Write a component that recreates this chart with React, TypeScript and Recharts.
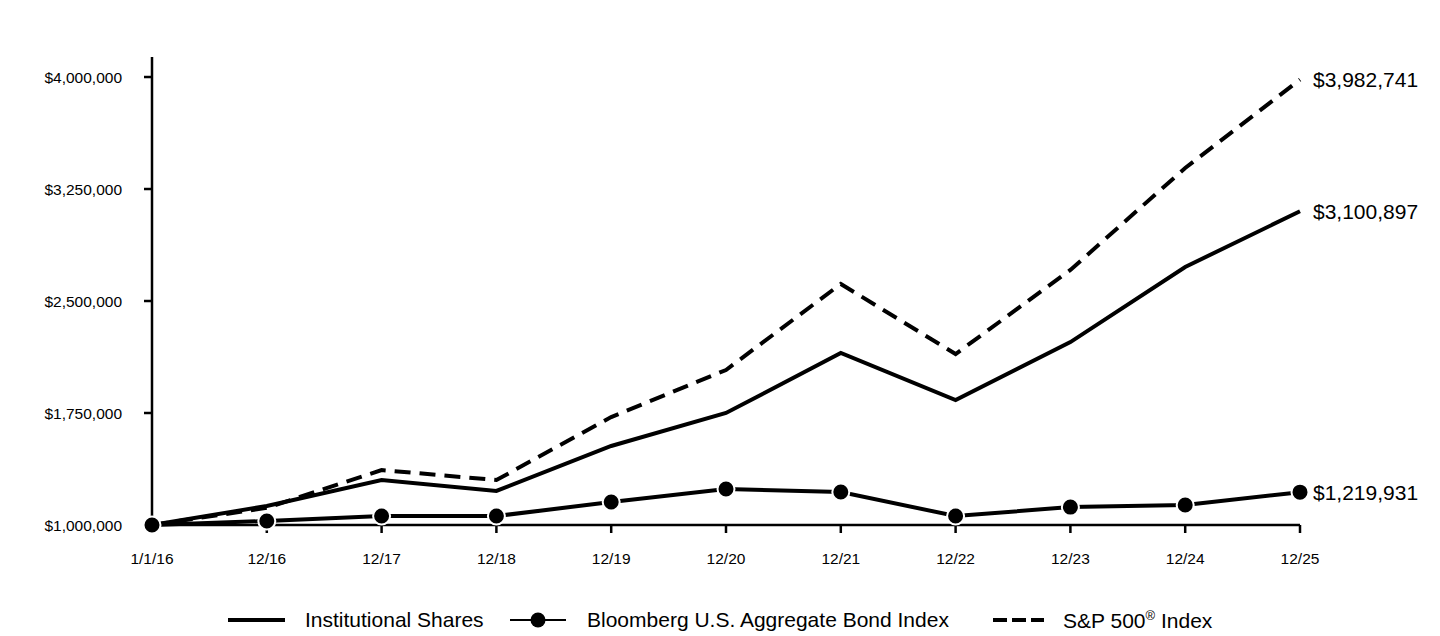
import { LineChart, Line, XAxis, YAxis, LabelList } from "recharts";

const dates = ["1/1/16", "12/16", "12/17", "12/18", "12/19", "12/20", "12/21", "12/22", "12/23", "12/24", "12/25"];
const institutional = [1000000, 1127000, 1301000, 1228000, 1529000, 1750000, 2152000, 1837000, 2225000, 2728000, 3100897];
const bondIndex = [1000000, 1027000, 1060000, 1060000, 1154000, 1241000, 1221000, 1060000, 1120000, 1134000, 1219931];
const sp500 = [1000000, 1115000, 1368000, 1301000, 1723000, 2038000, 2614000, 2145000, 2708000, 3391000, 3982741];
const yTicks = [1000000, 1750000, 2500000, 3250000, 4000000];

const data = dates.map((d, i) => ({
  date: d,
  inst: institutional[i],
  bond: bondIndex[i],
  sp: sp500[i],
}));

const FONT = '"Liberation Sans", Arial, sans-serif';
const money = (v: number) => "$" + v.toLocaleString("en-US");

const endLabel = (props: any) => {
  const { x, y, value, index } = props;
  if (index !== dates.length - 1) return null;
  return (
    <text x={x + 13} y={y} dy="0.35em" fontSize={21} fill="#000" fontFamily={FONT}>
      {money(value)}
    </text>
  );
};

export default function App() {
  return (
    <div style={{ position: "absolute", left: 0, top: 0, width: 1440, height: 636, background: "#fff", fontFamily: FONT }}>
      <LineChart width={1440} height={636} data={data} margin={{ top: 57, right: 140, bottom: 61, left: 0 }}>
        <XAxis
          dataKey="date"
          stroke="#000"
          strokeWidth={2.5}
          tickSize={8}
          tickMargin={20}
          fontSize={15.5}
          tick={{ fontSize: 15.5, fill: "#000", fontFamily: FONT }}
          height={50}
          interval={0}
        />
        <YAxis
          domain={[1000000, 4134000]}
          ticks={yTicks}
          tickFormatter={money}
          stroke="#000"
          strokeWidth={2.5}
          tickSize={8}
          tickMargin={22}
          width={152}
          fontSize={15.5}
          tick={{ fontSize: 15.5, fill: "#000", fontFamily: FONT }}
        />
        <Line dataKey="sp" stroke="#000" strokeWidth={4} strokeDasharray="16 9" dot={false} isAnimationActive={false}>
          <LabelList dataKey="sp" content={endLabel} />
        </Line>
        <Line dataKey="inst" stroke="#000" strokeWidth={4} dot={false} isAnimationActive={false}>
          <LabelList dataKey="inst" content={endLabel} />
        </Line>
        <Line
          dataKey="bond"
          stroke="#000"
          strokeWidth={4}
          dot={{ r: 8.5, fill: "#000", stroke: "#fff", strokeWidth: 2 }}
          isAnimationActive={false}
        >
          <LabelList dataKey="bond" content={endLabel} />
        </Line>
      </LineChart>
      <div style={{ position: "absolute", top: 606, left: 0, width: 1440, height: 28, fontSize: 21, color: "#000" }}>
        <svg style={{ position: "absolute", left: 226, top: 0 }} width={62} height={28}>
          <line x1={2} y1={14} x2={59} y2={14} stroke="#000" strokeWidth={4} />
        </svg>
        <span style={{ position: "absolute", left: 305, top: 2 }}>Institutional Shares</span>
        <svg style={{ position: "absolute", left: 508, top: 0 }} width={62} height={28}>
          <line x1={2} y1={14} x2={58} y2={14} stroke="#000" strokeWidth={2} />
          <circle cx={30} cy={14} r={7.5} fill="#000" />
        </svg>
        <span style={{ position: "absolute", left: 587, top: 2 }}>Bloomberg U.S. Aggregate Bond Index</span>
        <svg style={{ position: "absolute", left: 991, top: 0 }} width={62} height={28}>
          <line x1={2} y1={14} x2={53} y2={14} stroke="#000" strokeWidth={4} strokeDasharray="14 5" />
        </svg>
        <span style={{ position: "absolute", left: 1063, top: 2 }}>
          S&amp;P 500<sup style={{ fontSize: 13 }}>®</sup> Index
        </span>
      </div>
    </div>
  );
}
